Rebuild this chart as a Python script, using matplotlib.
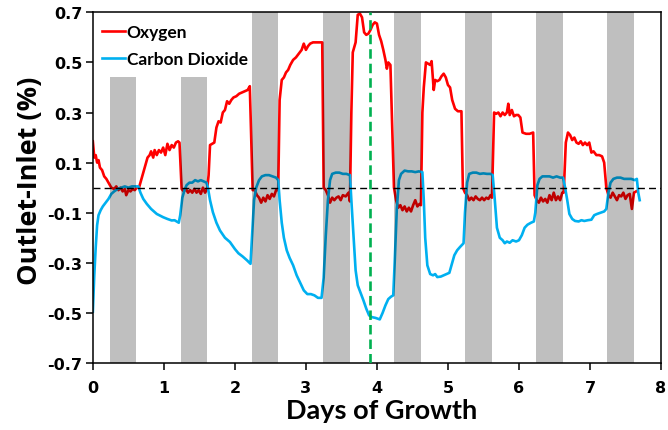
import matplotlib
matplotlib.use("Agg")
import matplotlib.pyplot as plt
import numpy as np

plt.rcParams['font.family'] = ['Lato', 'DejaVu Sans']
plt.rcParams['font.weight'] = 'bold'

# Oxygen (outlet - inlet, %) versus days of growth
o2_days = [0.00, 0.02, 0.04, 0.06, 0.08, 0.10, 0.13, 0.16, 0.19, 0.22, 0.26, 0.30, 0.33, 0.36,
           0.39, 0.42, 0.45, 0.47, 0.50, 0.53, 0.56, 0.59, 0.62, 0.65, 0.68, 0.71, 0.74, 0.77,
           0.80, 0.82, 0.85, 0.87, 0.90, 0.93, 0.96, 0.99, 1.02, 1.05, 1.08, 1.11, 1.14, 1.17,
           1.20, 1.22, 1.24, 1.25, 1.28, 1.31, 1.34, 1.37, 1.40, 1.43, 1.46, 1.49, 1.52, 1.55,
           1.58, 1.61, 1.63, 1.65, 1.68, 1.71, 1.74, 1.77, 1.80, 1.83, 1.86, 1.89, 1.92, 1.95,
           1.98, 2.02, 2.06, 2.10, 2.14, 2.18, 2.21, 2.23, 2.25, 2.28, 2.31, 2.34, 2.37, 2.40,
           2.43, 2.46, 2.49, 2.52, 2.55, 2.58, 2.61, 2.63, 2.66, 2.69, 2.72, 2.75, 2.78, 2.82,
           2.86, 2.90, 2.94, 2.97, 3.00, 3.03, 3.06, 3.10, 3.15, 3.20, 3.23, 3.25, 3.28, 3.31,
           3.34, 3.37, 3.40, 3.43, 3.46, 3.49, 3.52, 3.56, 3.60, 3.62, 3.64, 3.66, 3.70, 3.73,
           3.76, 3.79, 3.82, 3.85, 3.88, 3.91, 3.94, 3.97, 4.00, 4.03, 4.06, 4.09, 4.12, 4.14,
           4.16, 4.19, 4.22, 4.24, 4.27, 4.30, 4.33, 4.36, 4.39, 4.42, 4.45, 4.48, 4.51, 4.54,
           4.57, 4.60, 4.62, 4.64, 4.66, 4.69, 4.72, 4.75, 4.77, 4.80, 4.82, 4.85, 4.88, 4.91,
           4.94, 4.97, 5.00, 5.03, 5.06, 5.10, 5.14, 5.19, 5.21, 5.24, 5.27, 5.30, 5.33, 5.36,
           5.39, 5.42, 5.45, 5.48, 5.51, 5.54, 5.57, 5.60, 5.62, 5.65, 5.68, 5.71, 5.74, 5.77,
           5.80, 5.83, 5.85, 5.87, 5.90, 5.93, 5.96, 5.99, 6.02, 6.05, 6.10, 6.15, 6.20, 6.22,
           6.25, 6.28, 6.31, 6.34, 6.37, 6.40, 6.43, 6.46, 6.49, 6.52, 6.55, 6.58, 6.61, 6.63,
           6.66, 6.69, 6.72, 6.75, 6.78, 6.81, 6.84, 6.87, 6.90, 6.93, 6.96, 6.99, 7.02, 7.05,
           7.09, 7.13, 7.17, 7.20, 7.23, 7.26, 7.29, 7.32, 7.35, 7.38, 7.41, 7.44, 7.47, 7.50,
           7.53, 7.56, 7.59, 7.62, 7.65]
o2_vals = [0.185, 0.12, 0.13, 0.10, 0.11, 0.08, 0.07, 0.045, 0.035, 0.02, 0.00, -0.005, 0.005, -0.01,
           0.0, -0.015, -0.005, -0.03, -0.01, -0.015, -0.005, -0.01, 0.0, 0.0, 0.03, 0.06, 0.09, 0.12,
           0.13, 0.145, 0.12, 0.15, 0.13, 0.15, 0.14, 0.16, 0.13, 0.175, 0.15, 0.17, 0.16, 0.18,
           0.185, 0.18, 0.05, -0.005, -0.015, -0.005, -0.02, -0.01, -0.02, -0.005, -0.02, -0.01, -0.025, 0.0,
           -0.02, -0.005, 0.05, 0.17, 0.175, 0.18, 0.24, 0.265, 0.26, 0.30, 0.31, 0.345, 0.335, 0.35,
           0.36, 0.365, 0.375, 0.38, 0.385, 0.39, 0.405, 0.20, -0.01, -0.01, -0.03, -0.04, -0.06, -0.04,
           -0.055, -0.03, -0.045, -0.025, -0.035, -0.01, -0.01, 0.35, 0.43, 0.44, 0.46, 0.47, 0.49, 0.51,
           0.52, 0.535, 0.55, 0.575, 0.55, 0.565, 0.575, 0.58, 0.58, 0.58, 0.58, 0.0, -0.01, -0.03,
           -0.06, -0.04, -0.05, -0.04, -0.035, -0.05, -0.03, -0.035, -0.02, -0.055, 0.30, 0.54, 0.58, 0.69,
           0.695, 0.68, 0.62, 0.61, 0.615, 0.63, 0.65, 0.66, 0.655, 0.61, 0.585, 0.55, 0.51, 0.475,
           0.50, 0.49, 0.20, 0.0, -0.05, -0.08, -0.07, -0.09, -0.075, -0.095, -0.08, -0.095, -0.07, -0.05,
           -0.075, -0.065, -0.07, 0.30, 0.40, 0.50, 0.495, 0.49, 0.505, 0.39, 0.43, 0.425, 0.43, 0.445,
           0.455, 0.44, 0.41, 0.40, 0.35, 0.315, 0.305, 0.305, 0.0, -0.02, -0.03, -0.05, -0.04, -0.05,
           -0.035, -0.045, -0.05, -0.04, -0.05, -0.04, -0.045, -0.03, -0.04, 0.30, 0.295, 0.30, 0.285, 0.30,
           0.29, 0.30, 0.335, 0.29, 0.31, 0.285, 0.29, 0.29, 0.28, 0.22, 0.215, 0.215, 0.22, -0.03,
           -0.05, -0.06, -0.04, -0.055, -0.045, -0.06, -0.03, -0.05, -0.02, -0.05, -0.035, -0.05, -0.02, -0.02,
           0.18, 0.22, 0.21, 0.19, 0.20, 0.18, 0.175, 0.185, 0.17, 0.18, 0.17, 0.18, 0.14, 0.145,
           0.13, 0.13, 0.125, 0.10, 0.0, -0.03, -0.04, -0.02, -0.035, -0.05, -0.03, -0.035, -0.02, -0.045,
           -0.03, -0.025, -0.085, -0.02, -0.015]

# Carbon dioxide (outlet - inlet, %) versus days of growth
co2_days = [0.00, 0.02, 0.04, 0.06, 0.08, 0.11, 0.14, 0.18, 0.22, 0.26, 0.30, 0.35, 0.40, 0.45,
            0.50, 0.55, 0.60, 0.64, 0.67, 0.71, 0.76, 0.82, 0.90, 0.99, 1.05, 1.11, 1.15, 1.18,
            1.21, 1.23, 1.26, 1.29, 1.32, 1.36, 1.40, 1.44, 1.48, 1.52, 1.56, 1.60, 1.62, 1.65,
            1.69, 1.74, 1.79, 1.86, 1.93, 2.00, 2.05, 2.11, 2.17, 2.22, 2.24, 2.27, 2.30, 2.34,
            2.38, 2.43, 2.48, 2.53, 2.58, 2.61, 2.63, 2.66, 2.69, 2.73, 2.77, 2.82, 2.87, 2.92,
            2.97, 3.02, 3.07, 3.12, 3.17, 3.22, 3.25, 3.28, 3.31, 3.34, 3.37, 3.42, 3.47, 3.52,
            3.57, 3.62, 3.64, 3.67, 3.70, 3.73, 3.77, 3.81, 3.85, 3.89, 3.93, 3.98, 4.04, 4.08,
            4.12, 4.16, 4.20, 4.23, 4.25, 4.28, 4.31, 4.34, 4.39, 4.44, 4.49, 4.54, 4.59, 4.64,
            4.66, 4.68, 4.71, 4.75, 4.79, 4.82, 4.85, 4.90, 4.94, 4.98, 5.02, 5.06, 5.09, 5.13,
            5.17, 5.22, 5.24, 5.27, 5.30, 5.35, 5.40, 5.45, 5.50, 5.55, 5.60, 5.63, 5.66, 5.69,
            5.73, 5.77, 5.80, 5.83, 5.87, 5.91, 5.96, 6.00, 6.04, 6.08, 6.12, 6.17, 6.21, 6.23,
            6.26, 6.29, 6.33, 6.38, 6.43, 6.48, 6.53, 6.58, 6.62, 6.65, 6.68, 6.71, 6.75, 6.79,
            6.84, 6.88, 6.92, 6.97, 7.02, 7.06, 7.10, 7.15, 7.20, 7.23, 7.26, 7.29, 7.33, 7.38,
            7.43, 7.48, 7.53, 7.58, 7.63, 7.66, 7.68, 7.70]
co2_vals = [-0.495, -0.35, -0.24, -0.15, -0.11, -0.09, -0.075, -0.06, -0.045, -0.025, -0.015, -0.005, 0.0, 0.005,
            0.0, 0.005, 0.005, 0.005, -0.02, -0.045, -0.065, -0.085, -0.105, -0.118, -0.125, -0.131, -0.13, -0.135,
            -0.14, -0.11, -0.04, -0.01, 0.01, 0.02, 0.02, 0.03, 0.025, 0.03, 0.025, 0.02, 0.0, -0.05,
            -0.098, -0.14, -0.171, -0.20, -0.217, -0.245, -0.262, -0.275, -0.29, -0.304, -0.20, -0.05, 0.0, 0.03,
            0.045, 0.05, 0.05, 0.045, 0.04, 0.03, -0.05, -0.14, -0.20, -0.25, -0.28, -0.31, -0.35, -0.38,
            -0.41, -0.425, -0.425, -0.43, -0.44, -0.44, -0.36, -0.19, -0.05, 0.03, 0.055, 0.06, 0.06, 0.055,
            0.055, 0.05, -0.05, -0.19, -0.33, -0.39, -0.42, -0.45, -0.483, -0.51, -0.517, -0.52, -0.526, -0.50,
            -0.47, -0.445, -0.435, -0.43, -0.30, -0.085, 0.03, 0.055, 0.068, 0.065, 0.065, 0.062, 0.065, 0.062,
            -0.05, -0.20, -0.31, -0.345, -0.35, -0.345, -0.357, -0.355, -0.35, -0.345, -0.34, -0.30, -0.27, -0.25,
            -0.237, -0.222, -0.10, 0.02, 0.055, 0.06, 0.06, 0.055, 0.057, 0.055, 0.055, 0.05, -0.05, -0.16,
            -0.20, -0.21, -0.222, -0.215, -0.22, -0.21, -0.215, -0.21, -0.19, -0.16, -0.148, -0.14, -0.135, -0.10,
            0.01, 0.035, 0.045, 0.045, 0.045, 0.04, 0.045, 0.04, 0.04, 0.0, -0.05, -0.105, -0.125, -0.133,
            -0.135, -0.13, -0.133, -0.13, -0.128, -0.11, -0.105, -0.10, -0.095, -0.085, -0.02, 0.02, 0.035, 0.04,
            0.04, 0.035, 0.035, 0.035, 0.03, 0.035, -0.02, -0.05]

# Dark periods (shaded)
dark_start = [0.24, 1.24, 2.24, 3.24, 4.24, 5.24, 6.24, 7.24]
dark_end = [0.61, 1.61, 2.61, 3.62, 4.62, 5.62, 6.62, 7.62]
dark_top = [0.44, 0.44, 0.7, 0.7, 0.7, 0.7, 0.7, 0.7]

marker_day = 3.9
x_ticks = [0, 1, 2, 3, 4, 5, 6, 7, 8]
y_ticks = [-0.7, -0.5, -0.3, -0.1, 0.1, 0.3, 0.5, 0.7]

fig = plt.figure(figsize=(6.68, 4.31), dpi=100)
ax = fig.add_axes([0.139, 0.1555, 0.8505, 0.8136])

ax.plot(o2_days, o2_vals, color='#FF0000', lw=1.9, label='Oxygen', zorder=2)
ax.plot(co2_days, co2_vals, color='#00B0F0', lw=1.9, label='Carbon Dioxide', zorder=2)

ymin, ymax = -0.7, 0.7
for s, e, t in zip(dark_start, dark_end, dark_top):
    ax.bar(s, t - ymin, bottom=ymin, width=e - s, align='edge',
           color='black', alpha=0.25, lw=0, zorder=3)

ax.axhline(0, color='black', lw=1.0, ls=(0, (5, 3)), zorder=4)
ax.axvline(marker_day, color='#00B050', lw=1.9, ls=(0, (3.6, 1.9)), zorder=4)

ax.set_xlim(0, 8)
ax.set_ylim(ymin, ymax)
ax.set_xticks(x_ticks)
ax.set_yticks(y_ticks)
tick_font = {'family': ['DejaVu Sans'], 'weight': 'bold', 'size': 11.5}
ax.set_xticklabels([str(v) for v in x_ticks], fontdict=tick_font)
ax.set_yticklabels([f"{v:.1f}" for v in y_ticks], fontdict=tick_font)

for sp in ax.spines.values():
    sp.set_linewidth(1.1)
ax.tick_params(axis='both', direction='out', length=5, width=1.1)
ax.tick_params(axis='x', pad=7)
ax.tick_params(axis='y', pad=2.5)

ax.set_xlabel('Days of Growth', fontsize=19.5, fontweight='bold')
ax.set_ylabel('Outlet-Inlet (%)', fontsize=19.5, fontweight='bold',
              family=['Open Sans', 'DejaVu Sans'])
ax.xaxis.set_label_coords(0.508, -0.1)
ax.yaxis.set_label_coords(-0.088, 0.522)

leg = ax.legend(loc='upper left', bbox_to_anchor=(-0.005, 1.0), frameon=False,
                handlelength=1.3, handletextpad=0.12, labelspacing=0.63,
                borderaxespad=0.3, prop={'size': 12.5, 'weight': 'bold'})

fig.savefig('out.png', dpi=100)
